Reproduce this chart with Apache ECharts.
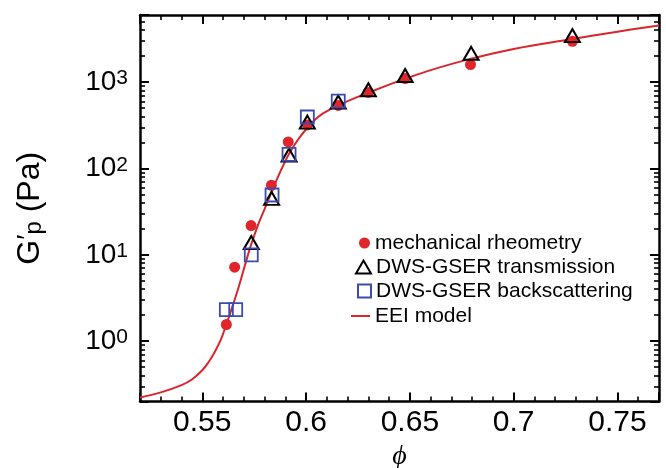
<!DOCTYPE html>
<html><head><meta charset="utf-8">
<script src="https://cdn.jsdelivr.net/npm/echarts@6/dist/echarts.min.js"></script>
<style>html,body{margin:0;padding:0;background:#fff}#c{width:666px;height:468px}</style>
</head><body><div id="c"></div>
<script>
// ---- data (phi, G'p in Pa) ----
const mechPhi = [0.5616,0.5656,0.5735,0.5833,0.5914,0.6006,0.6155,0.6299,0.6477,0.6792,0.7283];
const mechG   = [1.56,7.2,21.8,64,203,320,538,760,1100,1600,2970];
const transPhi = [0.5736,0.5834,0.5918,0.6006,0.6155,0.6300,0.6477,0.6795,0.7283];
const transG   = [13.9,45,143,345,588,817,1194,2160,3460];
const backPhi = [0.5616,0.5661,0.5736,0.5836,0.5918,0.6006,0.6155];
const backG   = [2.32,2.32,10.0,49.3,146,395,604];
const modelPhi = [0.520,0.530,0.540,0.545,0.550,0.553,0.556,0.559,0.5616,0.5645,0.5676,0.5705,0.5733,0.5766,0.580,0.5836,0.5876,0.5918,0.596,0.600,0.604,0.608,0.612,0.6161,0.624,0.6318,0.6432,0.6477,0.660,0.6792,0.700,0.7283,0.750,0.770];
const modelG   = [0.222,0.255,0.31,0.36,0.46,0.57,0.75,1.05,1.56,2.51,4.3,7.5,12.6,21.4,33.9,55,92,148,214,285,363,432,490,547,661,785,1000,1096,1380,1862,2427,3162,3846,4539];
const xRange = [0.52,0.77];
const yRange = [0.2,6000];
const labels = ['mechanical rheometry','DWS-GSER transmission','DWS-GSER backscattering','EEI model'];

const FONT = 'Liberation Sans';
const RED = '#e0252b', LINE_RED = '#d8262c', BLUE = '#3b4cae';
const pairs = (xs, ys) => xs.map((x, i) => [x, ys[i]]);

const frameLine = {show: true, onZero: false, lineStyle: {color: '#000', width: 2.5}};
const majorTick = {show: true, inside: true, length: 9, lineStyle: {color: '#000', width: 2}};

function xAx(pos) {
  return {
    type: 'value', position: pos, min: xRange[0], max: xRange[1],
    axisLine: frameLine, axisTick: majorTick,
    minorTick: {show: true, splitNumber: 5, length: 5, lineStyle: {color: '#000', width: 1.6}},
    axisLabel: {show: pos === 'bottom', showMinLabel: false, showMaxLabel: false,
      formatter: v => String(+(+v).toFixed(2)), fontSize: 30, color: '#000', fontFamily: FONT, margin: 6},
    splitLine: {show: false}, minorSplitLine: {show: false}
  };
}
function yAx(pos) {
  return {
    type: 'log', logBase: 10, position: pos, min: yRange[0], max: yRange[1],
    axisLine: frameLine, axisTick: majorTick,
    minorTick: {show: true, splitNumber: 9, length: 5, lineStyle: {color: '#000', width: 1.6}},
    axisLabel: {show: pos === 'left', showMinLabel: false, showMaxLabel: false, margin: 12,
      formatter: v => '{b|10}{s|' + Math.round(Math.log10(v)) + '}',
      rich: {
        b: {fontSize: 28, fontFamily: FONT, color: '#000', lineHeight: 28},
        s: {fontSize: 21, fontFamily: FONT, color: '#000', lineHeight: 8, verticalAlign: 'top'}
      }},
    splitLine: {show: false}, minorSplitLine: {show: false}
  };
}

const xAxes = [xAx('bottom'), xAx('top')];
Object.assign(xAxes[0], {name: 'ϕ', nameLocation: 'middle', nameGap: 40,
  nameTextStyle: {fontFamily: "'Liberation Serif','DejaVu Serif'", fontStyle: 'italic', fontSize: 28, color: '#000'}});
const yAxes = [yAx('left'), yAx('right')];
Object.assign(yAxes[0], {name: '{g|G}{pr|′}{sub|p}{n| (Pa)}', nameLocation: 'middle', nameGap: 94, nameRotate: 90,
  nameTextStyle: {color: '#000', rich: {
    g: {fontSize: 32, fontFamily: FONT, color: '#000', lineHeight: 32},
    pr: {fontSize: 28, fontFamily: FONT, color: '#000', lineHeight: 6, verticalAlign: 'top'},
    sub: {fontSize: 24, fontFamily: FONT, color: '#000', lineHeight: 2, verticalAlign: 'bottom'},
    n: {fontSize: 32, fontFamily: FONT, color: '#000', lineHeight: 32}
  }}});

function leg(name, icon, w, h, rowY) {
  return {data: [{name: name, icon: icon}], selectedMode: false, padding: 0, orient: 'vertical',
    left: 375 - 5 - w, top: rowY - 11, itemWidth: w, itemHeight: h,
    textStyle: {fontSize: 21, fontFamily: FONT, color: '#000', lineHeight: 22}};
}

const option = {
  animation: false,
  grid: {left: 140, right: 7, top: 15, bottom: 66.5, outerBoundsMode: 'none', containLabel: false},
  xAxis: xAxes,
  yAxis: yAxes,
  legend: [
    leg(labels[0], 'circle', 11, 11, 243),
    leg(labels[1], 'triangle', 15, 13, 267),
    leg(labels[2], 'rect', 13, 13, 291),
    leg(labels[3], 'rect', 19, 2, 316)
  ],
  series: [
    {name: labels[3], type: 'line', xAxisIndex: 0, yAxisIndex: 0, data: pairs(modelPhi, modelG),
      showSymbol: false, smooth: 0.4, z: 1,
      itemStyle: {color: LINE_RED}, lineStyle: {color: LINE_RED, width: 2}},
    {name: labels[0], type: 'scatter', xAxisIndex: 0, yAxisIndex: 0, data: pairs(mechPhi, mechG),
      symbol: 'circle', symbolSize: 11, z: 2, itemStyle: {color: RED, opacity: 1}},
    {name: labels[1], type: 'scatter', xAxisIndex: 0, yAxisIndex: 0, data: pairs(transPhi, transG),
      symbol: 'triangle', symbolSize: [15, 13], z: 3,
      itemStyle: {color: 'rgba(0,0,0,0)', borderColor: '#000', borderWidth: 2, opacity: 1}},
    {name: labels[2], type: 'scatter', xAxisIndex: 0, yAxisIndex: 0, data: pairs(backPhi, backG),
      symbol: 'rect', symbolSize: 13, z: 4,
      itemStyle: {color: 'rgba(0,0,0,0)', borderColor: BLUE, borderWidth: 1.8, opacity: 1}}
  ]
};
const chart = echarts.init(document.getElementById('c'), null, {renderer: 'canvas'});
chart.setOption(option);
</script></body></html>
